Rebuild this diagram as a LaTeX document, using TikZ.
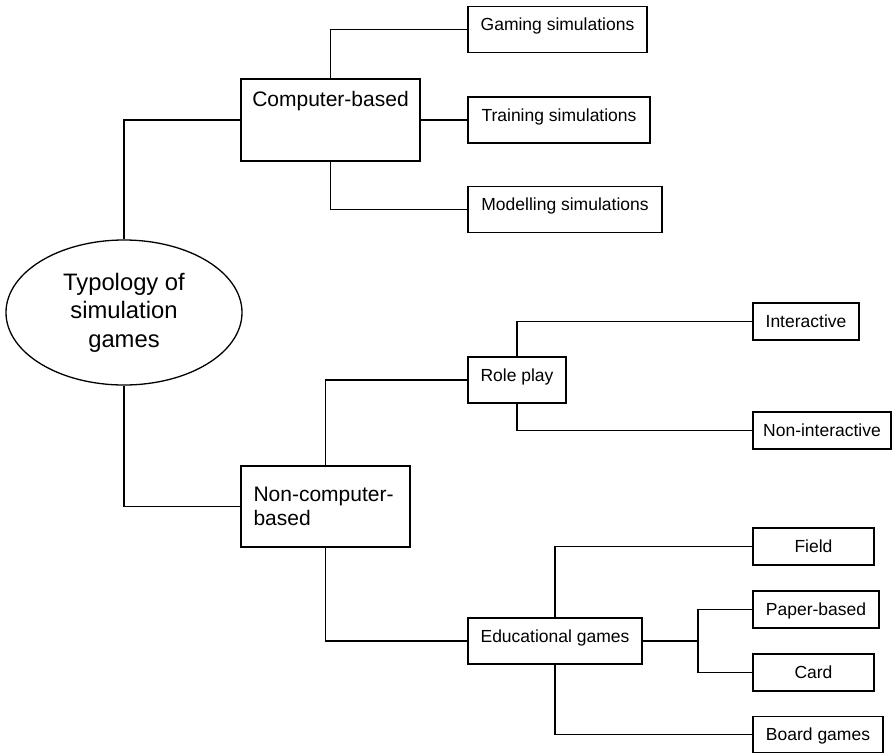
\documentclass[tikz,border=0pt]{standalone}
\usepackage{fontspec}
\setmainfont{Liberation Sans}
\usetikzlibrary{shapes.geometric}
\newcommand{\smallfont}{\fontsize{17.5pt}{21pt}\selectfont}
\newcommand{\midfont}{\fontsize{21pt}{24pt}\selectfont}
\newcommand{\bigfont}{\fontsize{23.8pt}{28.5pt}\selectfont}
\begin{document}
\begin{tikzpicture}[x=1pt,y=1pt]
    \tikzstyle{every node}+=[inner sep=0pt]
    \tikzstyle{wire}=[line width=1.3pt]
    \tikzstyle{catbox}=[draw, line width=1.7pt, font=\midfont]
    \tikzstyle{subbox}=[draw, line width=1.7pt, font=\smallfont, minimum height=46, text height=12.5pt, text depth=10pt]
    \tikzstyle{leafbox}=[draw, line width=1.7pt, font=\smallfont, minimum height=37, text height=12.5pt, text depth=0pt]
    \useasboundingbox (0,0) rectangle (892,-753);
    \node [ellipse, draw, line width=1.3pt, minimum width=236, minimum height=145, align=center, font=\bigfont] (root) at (124,-312.5) {Typology of\\simulation\\games};
    \node [catbox, minimum width=179, minimum height=82, text height=15pt, text depth=43pt] (cb) at (330.5,-120) {Computer-based};
    \node [catbox, minimum width=169, minimum height=81, text width=144pt, align=left] (ncb) at (325.5,-506.5) {Non-computer-\\based};
    \node [subbox, minimum width=179] (gaming) at (557.5,-29.5) {Gaming simulations};
    \node [subbox, minimum width=182] (training) at (559,-120) {Training simulations};
    \node [subbox, minimum width=194] (modelling) at (565,-209.5) {Modelling simulations};
    \node [subbox, minimum width=98] (role) at (517,-380) {Role play};
    \node [subbox, minimum width=174] (edu) at (555,-641) {Educational games};
    \node [leafbox, minimum width=106] (inter) at (806,-321.5) {Interactive};
    \node [leafbox, minimum width=138] (noninter) at (822,-430.5) {Non-interactive};
    \node [leafbox, minimum width=121] (field) at (813.5,-546.5) {Field};
    \node [leafbox, minimum width=126] (paper) at (816,-609.5) {Paper-based};
    \node [leafbox, minimum width=121] (card) at (813.5,-672.5) {Card};
    \node [leafbox, minimum width=130, minimum height=36] (board) at (818,-734.5) {Board games};
    \coordinate (fork) at (698,-641);
    % root to the two families
    \draw [wire] (root.north) |- (cb.west);
    \draw [wire] (root.south) |- (ncb.west);
    % computer-based
    \draw [wire] (cb.north) |- (gaming.west);
    \draw [wire] (cb.east) -- (training.west);
    \draw [wire] (cb.south) |- (modelling.west);
    % non-computer-based
    \draw [wire] (ncb.north) |- (role.west);
    \draw [wire] (ncb.south) |- (edu.west);
    \draw [wire] (role.north) |- (inter.west);
    \draw [wire] (role.south) |- (noninter.west);
    \draw [wire] (edu.north) |- (field.west);
    \draw [wire] (edu.south) |- (board.west);
    \draw [line width=1.7pt] (edu.east) -- (fork);
    \draw [wire] (paper.west) -| (fork) |- (card.west);
\end{tikzpicture}
\end{document}
